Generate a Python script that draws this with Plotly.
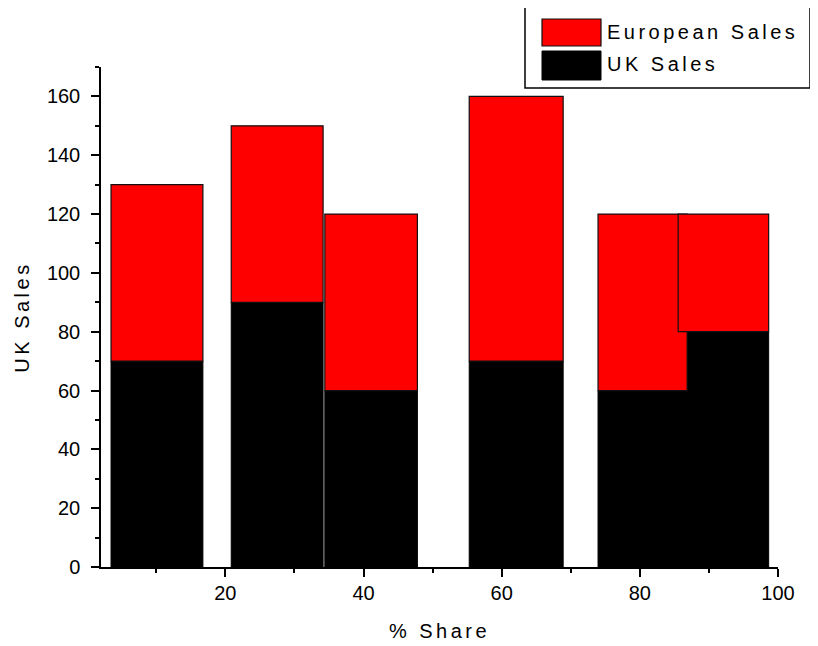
import plotly.graph_objects as go

# ---- data ----
share_center = [10.1, 27.5, 41.1, 62.1, 80.4, 92.1]   # % Share (bar centres)
share_width = [13.3, 13.3, 13.4, 13.6, 12.9, 13.1]    # bar widths
uk_sales = [70, 90, 60, 70, 60, 80]
european_sales = [60, 60, 60, 90, 60, 40]
series_names = ["UK Sales", "European Sales"]
series_colors = ["#000000", "#FF0000"]

# the page body adds an 8px margin, so the figure is drawn 8px smaller
OFF = 8
W, H = 818 - OFF, 646 - OFF
ML, MT = 101 - OFF, 67 - OFF
MR, MB = W - (778 - OFF), H - (567 - OFF)
PW, PH = W - ML - MR, H - MT - MB

def px_x(px):
    return (px - OFF - ML) / PW

def px_y(py):
    return (H - MB - (py - OFF)) / PH

FONT = "Liberation Sans, Arial, sans-serif"
SP = "letter-spacing:3.5px"

def spaced(t):
    return f'<span style="{SP}">{t}</span>'

fig = go.Figure()
fig.add_trace(go.Bar(
    x=share_center, y=uk_sales, width=share_width,
    name=series_names[0],
    marker=dict(color=series_colors[0], line=dict(color="#000000", width=1)),
    showlegend=False,
))
fig.add_trace(go.Bar(
    x=share_center, y=european_sales, base=uk_sales, width=share_width,
    name=series_names[1],
    marker=dict(color=series_colors[1], line=dict(color="#111111", width=1.2)),
    showlegend=False,
))

axis_common = dict(
    showline=True, linecolor="#000000", linewidth=1.5,
    ticks="outside", ticklen=8, tickwidth=1.5, tickcolor="#000000",
    showgrid=False, zeroline=False,
    tickfont=dict(family=FONT, size=20, color="#000000"),
    minor=dict(ticks="outside", ticklen=4, tickwidth=1.5, tickcolor="#000000", dtick=10, showgrid=False),
)

fig.update_layout(
    width=W, height=H,
    margin=dict(l=ML, r=MR, t=MT, b=MB, autoexpand=False),
    paper_bgcolor="white", plot_bgcolor="white",
    barmode="overlay",
    showlegend=False,
    xaxis=dict(range=[2, 100], tickvals=[20, 40, 60, 80, 100],
               ticklabelstandoff=-1,
               title=dict(text=spaced("% Share"), standoff=21,
                          font=dict(family=FONT, size=20, color="#000000")),
               **axis_common),
    yaxis=dict(range=[0, 170], tickvals=[0, 20, 40, 60, 80, 100, 120, 140, 160],
               ticklabelstandoff=7,
               title=dict(text=spaced("UK Sales"), standoff=12,
                          font=dict(family=FONT, size=20, color="#000000")),
               **axis_common),
)

# legend box drawn in the Origin style
shapes = [
    dict(type="rect", xref="paper", yref="paper",
         x0=px_x(525), x1=px_x(810), y0=px_y(88), y1=px_y(7),
         line=dict(color="#000000", width=1.5), fillcolor="white", layer="above"),
    dict(type="rect", xref="paper", yref="paper",
         x0=px_x(542), x1=px_x(601), y0=px_y(46), y1=px_y(19),
         line=dict(color="#111111", width=1.2), fillcolor=series_colors[1], layer="above"),
    dict(type="rect", xref="paper", yref="paper",
         x0=px_x(542), x1=px_x(601), y0=px_y(80), y1=px_y(51),
         line=dict(color="#000000", width=1), fillcolor=series_colors[0], layer="above"),
]
annotations = [
    dict(xref="paper", yref="paper", x=px_x(605), y=px_y(32), xanchor="left", yanchor="middle",
         text=spaced(series_names[1]), showarrow=False,
         font=dict(family=FONT, size=20, color="#000000")),
    dict(xref="paper", yref="paper", x=px_x(605), y=px_y(64), xanchor="left", yanchor="middle",
         text=spaced(series_names[0]), showarrow=False,
         font=dict(family=FONT, size=20, color="#000000")),
]
fig.update_layout(shapes=shapes, annotations=annotations)

fig.write_html("out.html")
